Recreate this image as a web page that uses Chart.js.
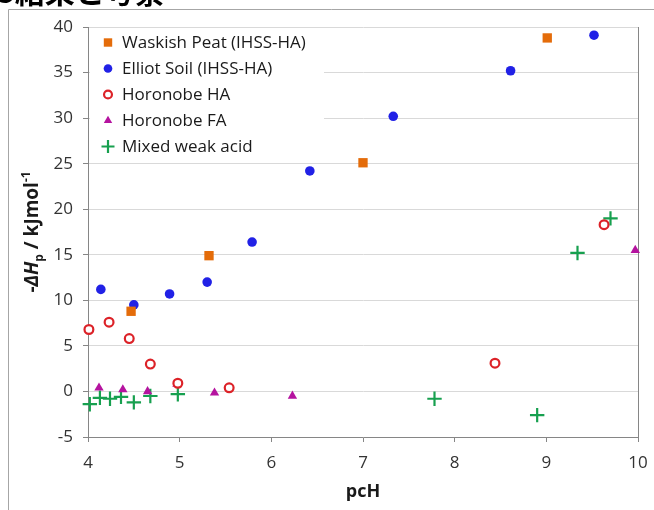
<!DOCTYPE html>
<html>
<head>
<meta charset="utf-8">
<script src="https://cdn.jsdelivr.net/npm/chart.js@4/dist/chart.umd.min.js"></script>
<style>
  html, body { margin: 0; padding: 0; background: #fff; }
  #wrap { position: relative; width: 654px; height: 510px; overflow: hidden; }
</style>
</head>
<body>
<div id="wrap"><canvas id="scatterChart" width="654" height="510"></canvas></div>
<script>
// values
var waskishX = [4.47, 5.32, 7.00, 9.01];
var waskishY = [8.8, 14.9, 25.1, 38.8];

var elliotX = [4.14, 4.50, 4.89, 5.30, 5.79, 6.42, 7.33, 8.61, 9.52];
var elliotY = [11.2, 9.5, 10.7, 12.0, 16.4, 24.2, 30.2, 35.2, 39.1];

var haX = [4.01, 4.23, 4.45, 4.68, 4.98, 5.54, 8.44, 9.63];
var haY = [6.8, 7.6, 5.8, 3.0, 0.9, 0.4, 3.1, 18.3];

var faX = [4.12, 4.38, 4.65, 4.97, 5.38, 6.23, 9.97];
var faY = [0.4, 0.2, 0.0, 0.8, -0.15, -0.5, 15.5];

var mixX = [4.02, 4.13, 4.24, 4.36, 4.50, 4.68, 4.98, 7.78, 8.90, 9.34, 9.70];
var mixY = [-1.4, -0.7, -0.8, -0.6, -1.2, -0.5, -0.3, -0.8, -2.6, 15.2, 19.0];

var seriesNames = ['Waskish Peat (IHSS-HA)', 'Elliot Soil (IHSS-HA)', 'Horonobe HA', 'Horonobe FA', 'Mixed weak acid'];
var xTitle = 'pcH';
var headingText = '3結果と考察';

function toPoints(xs, ys) {
  return xs.map(function(x, i) { return { x: x, y: ys[i] }; });
}

Chart.defaults.font.family = "'Open Sans', sans-serif";

var datasets = [
  { label: seriesNames[0], data: toPoints(waskishX, waskishY), pointStyle: 'rect', pointRadius: 6.6,
    backgroundColor: '#e46c0a', borderColor: '#e46c0a', borderWidth: 0 },
  { label: seriesNames[1], data: toPoints(elliotX, elliotY), pointStyle: 'circle', pointRadius: 4.8,
    backgroundColor: '#2121e6', borderColor: '#2121e6', borderWidth: 0 },
  { label: seriesNames[2], data: toPoints(haX, haY), pointStyle: 'circle', pointRadius: 4.4,
    backgroundColor: '#ffffff', borderColor: '#dc2228', borderWidth: 2.2 },
  { label: seriesNames[3], data: toPoints(faX, faY), pointStyle: 'triangle', pointRadius: 5.4,
    backgroundColor: '#b5139f', borderColor: '#b5139f', borderWidth: 0 },
  { label: seriesNames[4], data: toPoints(mixX, mixY), pointStyle: 'cross', pointRadius: 7.2,
    backgroundColor: '#17a04f', borderColor: '#17a04f', borderWidth: 2.2 }
];
datasets.forEach(function(d) { d.clip = false; d.pointHoverRadius = d.pointRadius; });

// legend inside the plot, title with sub/superscript, outer frame
var extras = {
  id: 'extras',
  beforeDatasetsDraw: function(chart) {
    var ctx = chart.ctx;
    ctx.save();
    ctx.fillStyle = '#ffffff';
    ctx.fillRect(90, 28, 234, 133);
    ctx.textBaseline = 'middle';
    ctx.textAlign = 'left';
    ctx.font = "17px 'Open Sans', sans-serif";
    chart.data.datasets.forEach(function(d, i) {
      var y = 42.5 + i * 26;
      ctx.fillStyle = d.backgroundColor;
      ctx.strokeStyle = d.borderColor;
      ctx.lineWidth = d.borderWidth;
      Chart.helpers.drawPoint(ctx, {
        pointStyle: d.pointStyle,
        radius: d.pointStyle === 'cross' ? 6.5 : d.pointRadius * 0.9,
        rotation: 0,
        borderWidth: d.borderWidth
      }, 108, y);
      ctx.fillStyle = '#1a1a1a';
      ctx.fillText(d.label, 122, y + 1);
    });
    ctx.restore();
  },
  afterDraw: function(chart) {
    var ctx = chart.ctx;
    ctx.save();
    // y title: -ΔHp / kJmol-1
    ctx.translate(38, 232);
    ctx.rotate(-Math.PI / 2);
    ctx.fillStyle = '#1a1a1a';
    ctx.textBaseline = 'alphabetic';
    ctx.textAlign = 'left';
    var parts = [
      { t: '-', f: "bold 19px 'Open Sans', sans-serif", dy: 0 },
      { t: 'ΔH', f: "italic bold 19px 'Open Sans', sans-serif", dy: 0 },
      { t: 'p', f: "bold 12px 'Open Sans', sans-serif", dy: 5 },
      { t: ' / kJmol', f: "bold 19px 'Open Sans', sans-serif", dy: 0 },
      { t: '-1', f: "bold 12px 'Open Sans', sans-serif", dy: -8 }
    ];
    var total = 0;
    parts.forEach(function(p) { ctx.font = p.f; p.w = ctx.measureText(p.t).width; total += p.w; });
    var x = -total / 2;
    parts.forEach(function(p) { ctx.font = p.f; ctx.fillText(p.t, x, p.dy); x += p.w; });
    ctx.restore();

    ctx.save();
    ctx.fillStyle = '#1a1a1a';
    ctx.font = "bold 18px 'Open Sans', sans-serif";
    ctx.textAlign = 'center';
    ctx.textBaseline = 'middle';
    ctx.fillText(xTitle, 363, 492);

    // outer frame of the figure
    ctx.strokeStyle = '#a6a6a6';
    ctx.lineWidth = 1;
    ctx.beginPath();
    ctx.moveTo(8.5, 510);
    ctx.lineTo(8.5, 9.5);
    ctx.lineTo(654, 9.5);
    ctx.stroke();

    // heading cut off at the top
    ctx.fillStyle = '#000000';
    ctx.font = "bold 30px 'Noto Sans CJK JP', sans-serif";
    ctx.textAlign = 'left';
    ctx.textBaseline = 'ideographic';
    ctx.fillText(headingText, -3, 7);
    ctx.restore();
  }
};

var ctx = document.getElementById('scatterChart').getContext('2d');
var myChart = new Chart(ctx, {
  type: 'scatter',
  data: { datasets: datasets },
  options: {
    responsive: false,
    animation: false,
    devicePixelRatio: 1,
    layout: { padding: { top: 27, right: 16, left: 0, bottom: 0 } },
    plugins: { legend: { display: false }, tooltip: { enabled: false } },
    scales: {
      x: {
        type: 'linear', min: 4, max: 10,
        ticks: { stepSize: 1, color: '#333333', font: { size: 17 }, padding: 11 },
        grid: {
          color: function(c) { return c.tick && c.tick.value === 10 ? '#868686' : 'rgba(0,0,0,0)'; },
          tickColor: '#868686', tickLength: 5
        },
        border: { color: '#868686' },
        afterFit: function(s) { s.height = 73; s.paddingRight = 10; s.paddingLeft = 0; }
      },
      y: {
        type: 'linear', min: -5, max: 40,
        ticks: { stepSize: 5, color: '#333333', font: { size: 17 }, padding: 10 },
        grid: { color: '#d9d9d9', tickColor: '#868686', tickLength: 5 },
        border: { color: '#868686' },
        afterFit: function(s) { s.width = 88; }
      }
    }
  },
  plugins: [extras]
});
</script>
</body>
</html>
